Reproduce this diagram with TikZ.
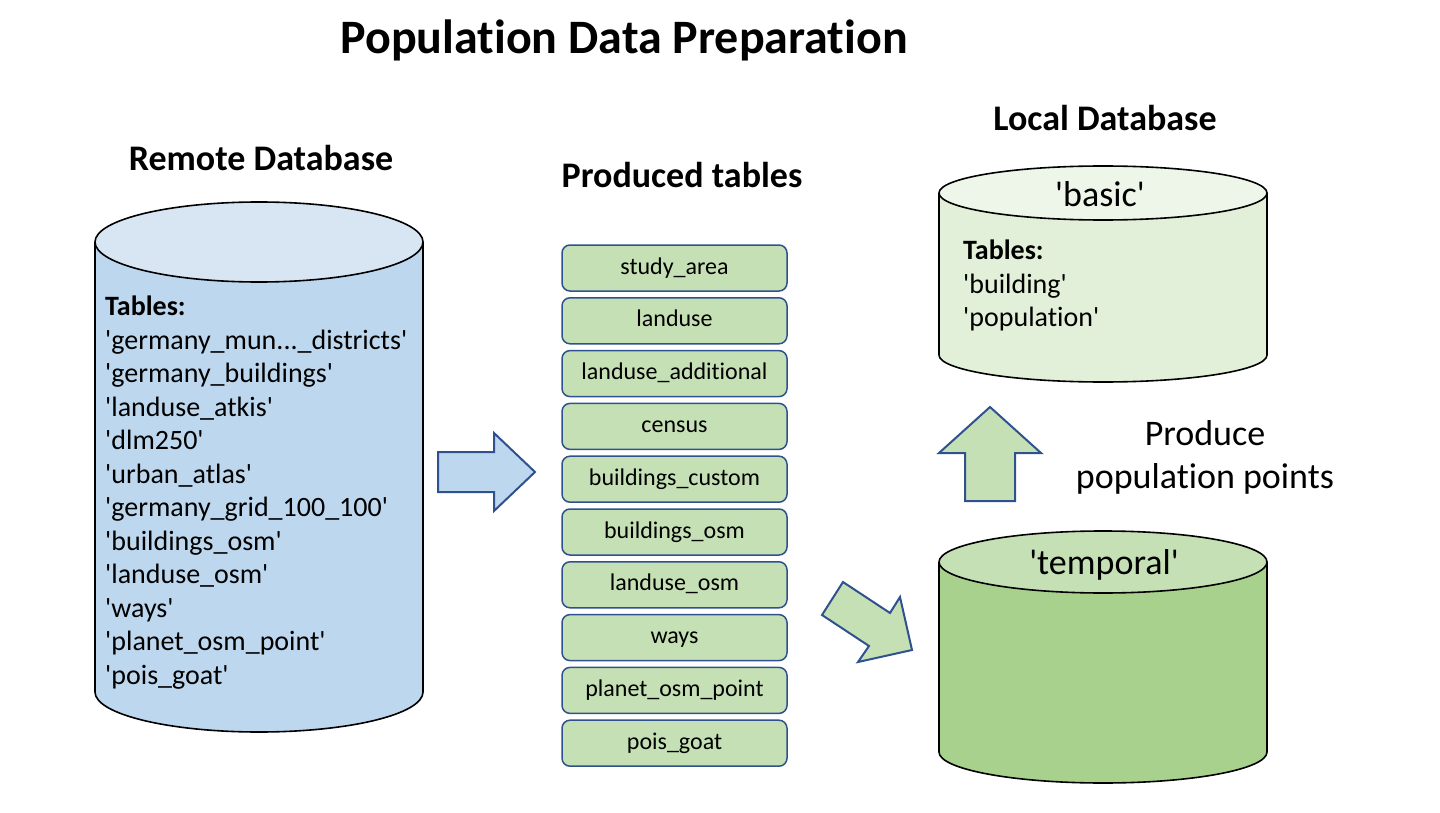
\documentclass[tikz,border=0pt]{standalone}
\usepackage{fontspec}
\setmainfont{Carlito}[Ligatures={TeX,NoCommon}]
\usepackage{xcolor}
\usetikzlibrary{positioning}
\definecolor{RemoteBlue}{HTML}{BDD7EE}
\definecolor{RemoteTop}{HTML}{D8E6F4}
\definecolor{TableGreen}{HTML}{C5E0B4}
\definecolor{BasicGreen}{HTML}{E2F0D9}
\definecolor{BasicTop}{HTML}{EEF6E9}
\definecolor{TempGreen}{HTML}{A9D18E}
\definecolor{EdgeBlue}{HTML}{2F528F}

\newcommand{\quoted}[1]{\textquotesingle#1\textquotesingle}
% cx, top y, bottom y, rx, ry, body colour, top colour
\newcommand{\dbcylinder}[7]{%
  \fill[#6] (#1-#4,#2) -- (#1-#4,#3) arc[start angle=180, end angle=0, x radius=#4, y radius=#5] -- (#1+#4,#2) -- cycle;
  \draw[cylline] (#1-#4,#2) -- (#1-#4,#3) arc[start angle=180, end angle=0, x radius=#4, y radius=#5] -- (#1+#4,#2);
  \filldraw[cylline, fill=#7] (#1,#2) ellipse[x radius=#4, y radius=#5];
}

\begin{document}
\begin{tikzpicture}[x=1pt, y=-1pt, node distance=52.8pt, on grid,
    cylline/.style={draw=black, line width=1.6pt},
    tablebox/.style={rectangle, rounded corners=8pt, draw=EdgeBlue, fill=TableGreen, line width=1.5pt, minimum width=225pt, minimum height=46pt, inner sep=0pt, text height=16pt, text depth=4pt, font=\fontsize{24}{28}\selectfont},
    heading/.style={font=\fontsize{36}{42}\selectfont\bfseries, inner sep=0pt},
    listtext/.style={align=left, inner sep=0pt, anchor=north west, font=\fontsize{28}{33.5}\selectfont},
    blockarrow/.style={draw=EdgeBlue, line width=2pt, line join=miter}]

    \useasboundingbox (0,0) rectangle (1440,813);

    \node[font=\fontsize{48}{56}\selectfont\bfseries, inner sep=0pt] (title) at (624,40) {Population Data Preparation};

    % remote database
    \node[heading] (remotehead) at (261,158) {Remote Database};
    \dbcylinder{259}{242}{692}{164}{40}{RemoteBlue}{RemoteTop}
    \node[listtext] (remotelist) at (105,296) {\textbf{Tables:}\\
        \quoted{germany\_mun...\_districts}\\
        \quoted{germany\_buildings}\\
        \quoted{landuse\_atkis}\\
        \quoted{dlm250}\\
        \quoted{urban\_atlas}\\
        \quoted{germany\_grid\_100\_100}\\
        \quoted{buildings\_osm}\\
        \quoted{landuse\_osm}\\
        \quoted{ways}\\
        \quoted{planet\_osm\_point}\\
        \quoted{pois\_goat}};

    \filldraw[blockarrow, fill=RemoteBlue] (438,452) -- (494,452) -- (494,433) -- (535,472) -- (494,511) -- (494,492) -- (438,492) -- cycle;

    % produced tables
    \node[heading] (tablehead) at (682,175) {Produced tables};
    \node[tablebox] (studyarea) at (674.5,268) {study\_area};
    \node[tablebox, below=of studyarea] (landuse) {landuse};
    \node[tablebox, below=of landuse] (landuseadd) {landuse\_additional};
    \node[tablebox, below=of landuseadd] (census) {census};
    \node[tablebox, below=of census] (bldcustom) {buildings\_custom};
    \node[tablebox, below=of bldcustom] (bldosm) {buildings\_osm};
    \node[tablebox, below=of bldosm] (landuseosm) {landuse\_osm};
    \node[tablebox, below=of landuseosm] (ways) {ways};
    \node[tablebox, below=of ways] (planetpoint) {planet\_osm\_point};
    \node[tablebox, below=of planetpoint] (poisgoat) {pois\_goat};

    \filldraw[blockarrow, fill=TableGreen] (822,615) -- (843,582) -- (890,613) -- (900,597) -- (912,650) -- (858,662) -- (869,646) -- cycle;

    % local database
    \node[heading] (localhead) at (1105,118) {Local Database};
    \dbcylinder{1103}{193}{355}{164}{27}{BasicGreen}{BasicTop}
    \node[font=\fontsize{36}{42}\selectfont, inner sep=0pt] (basic) at (1100,194) {\quoted{basic}};
    \node[listtext] (basiclist) at (963,240) {\textbf{Tables:}\\
        \quoted{building}\\
        \quoted{population}};

    \dbcylinder{1103}{562}{752}{164}{31}{TempGreen}{TableGreen}
    \node[font=\fontsize{36}{42}\selectfont, inner sep=0pt] (temporal) at (1104,565) {\quoted{temporal}};

    \filldraw[blockarrow, fill=TableGreen] (990,407) -- (1041,453) -- (1015,453) -- (1015,501) -- (965,501) -- (965,453) -- (939,453) -- cycle;
    \node[align=center, inner sep=0pt, font=\fontsize{36}{43}\selectfont] (produce) at (1205,457) {Produce\\population points};

\end{tikzpicture}
\end{document}
